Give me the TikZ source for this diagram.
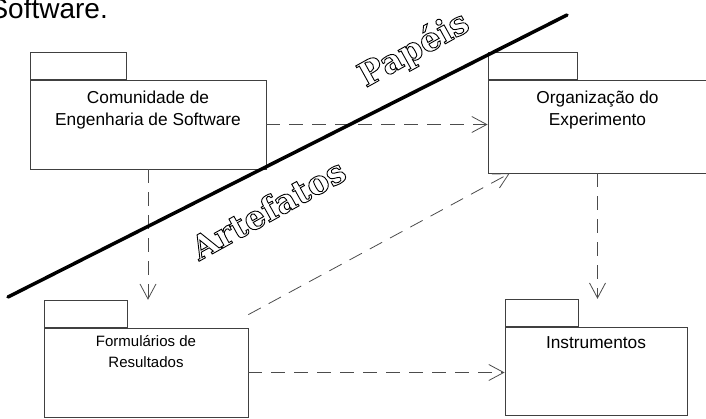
\documentclass[tikz,border=0pt]{standalone}
\usepackage{fontspec}
\setmainfont{Liberation Sans}
\newfontfamily\slabfont{DejaVu Serif}
\usetikzlibrary{arrows.meta,positioning}
% hollow letters: stroke the glyphs instead of filling them
\newcommand{\hollow}[1]{\special{pdf:literal direct q 1 Tr 0.9 w}#1\special{pdf:literal direct Q}}

\begin{document}
\begin{tikzpicture}[x=1pt, y=1pt,
    pkgbox/.style={draw=black!75, line width=0.8pt, inner sep=0pt},
    pkglabel/.style={anchor=north, align=center, inner sep=0pt, font=\fontsize{17.3}{22}\selectfont},
    dep/.style={draw=black!70, line width=0.8pt, dash pattern=on 14pt off 9pt,
        -{Straight Barb[length=15pt,width=16pt]}},
    border/.style={line width=3.5pt, line cap=round},
    realm/.style={inner sep=0pt, font=\slabfont\bfseries\fontsize{33}{33}\selectfont, rotate=29}]
    \useasboundingbox (0,0) rectangle (706,418);
    % end of the sentence above the figure
    \node[anchor=base east, inner sep=0pt, font=\fontsize{28}{28}\selectfont] (prev) at (108, 399) {Software.};
    % packages
    \node[pkgbox, minimum width=236pt, minimum height=89pt] (com) at (148, 293.5) {};
    \node[pkgbox, minimum width=96pt, minimum height=27pt, anchor=south west] (comtab) at (com.north west) {};
    \node[pkglabel] (comtxt) at ([yshift=-11pt]com.north) {Comunidade de\\Engenharia de Software};
    \node[pkgbox, minimum width=219pt, minimum height=93pt] (org) at (597.5, 291.5) {};
    \node[pkgbox, minimum width=89pt, minimum height=27pt, anchor=south west] (orgtab) at (org.north west) {};
    \node[pkglabel] (orgtxt) at ([yshift=-11pt]org.north) {Organização do\\Experimento};
    \node[pkgbox, minimum width=204pt, minimum height=89pt] (form) at (146, 45.5) {};
    \node[pkgbox, minimum width=83pt, minimum height=27pt, anchor=south west] (formtab) at (form.north west) {};
    \node[pkglabel, font=\fontsize{15}{21}\selectfont] (formtxt) at ([yshift=-8pt]form.north) {Formulários de\\Resultados};
    \node[pkgbox, minimum width=182pt, minimum height=88pt] (inst) at (596, 47) {};
    \node[pkgbox, minimum width=73pt, minimum height=27pt, anchor=south west] (insttab) at (inst.north west) {};
    \node[pkglabel] (insttxt) at ([yshift=-10pt]inst.north) {Instrumentos};
    % dependencies
    \draw[dep] (com.east) -- (com.east -| org.west);
    \draw[dep] (com.south) -- (com.south |- formtab.north);
    \draw[dep] (org.south) -- (org.south |- insttab.north);
    \draw[dep] (form.east) -- (form.east -| inst.west);
    \draw[dep] ([yshift=13pt]form.north east) -- ([xshift=22pt]org.south west);
    % dividing line
    \coordinate (lo) at (8, 121);
    \coordinate (hi) at (567, 403);
    \draw[border] (lo) -- (hi);
    \node[realm] (papeis) at (414, 368) {\hollow{Papéis}};
    \node[realm] (artef) at (268, 209) {\hollow{Artefatos}};
\end{tikzpicture}
\end{document}
